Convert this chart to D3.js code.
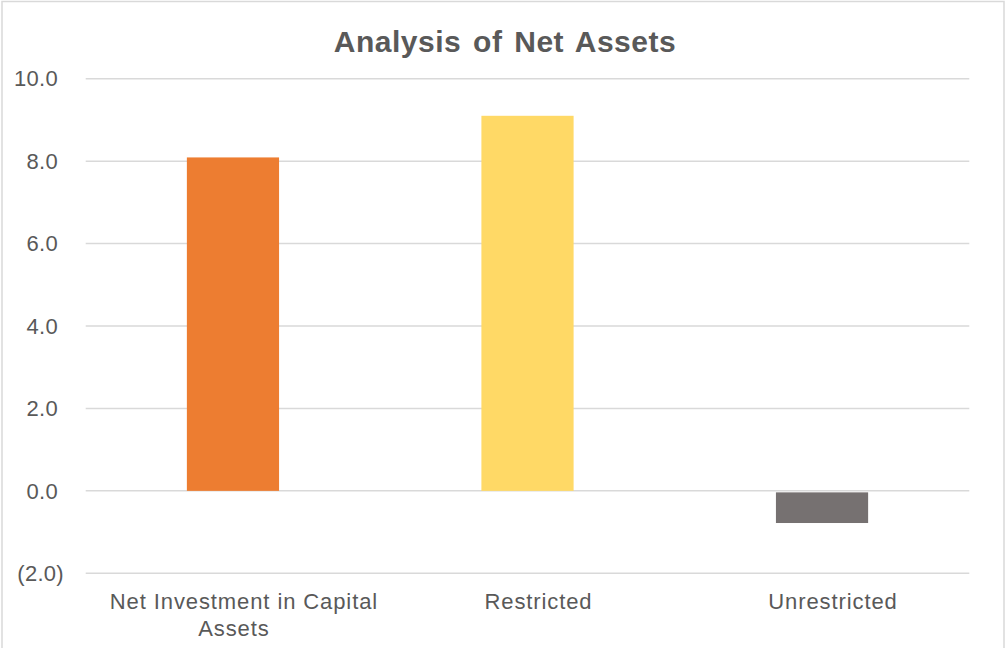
<!DOCTYPE html>
<html><head><meta charset="utf-8">
<script src="https://cdn.jsdelivr.net/npm/d3@7"></script>
<style>html,body{margin:0;padding:0;background:#fff;}</style>
</head><body>
<svg id="chart" width="1006" height="648"></svg>
<script>
const categories = ["Net Investment in Capital Assets", "Restricted", "Unrestricted"];
const categoryLines = [["Net Investment in Capital", "Assets"], ["Restricted"], ["Unrestricted"]];
const values = [8.09, 9.10, -0.78];
const colors = ["#ED7D31", "#FFD966", "#767171"];
const tickValues = [-2, 0, 2, 4, 6, 8, 10];
const title = "Analysis of Net Assets";

const svg = d3.select("#chart");
const font = "'Liberation Sans', Arial, sans-serif";
const textColor = "#595959";

svg.append("rect").attr("x", 2).attr("y", 1.5).attr("width", 1002).attr("height", 700)
  .attr("fill", "#fff").attr("stroke", "#d9d9d9").attr("stroke-width", 1.5);

const x = d3.scaleBand().domain(categories).range([85.7, 969.3]).paddingInner(0.687).paddingOuter(0.3435);
const y = d3.scaleLinear().domain([-2, 10]).range([573.3, 78.7]);

// gridlines
svg.append("g").selectAll("line").data(tickValues).join("line")
  .attr("x1", 85.7).attr("x2", 969.3)
  .attr("y1", d => y(d)).attr("y2", d => y(d))
  .attr("stroke", "#d9d9d9").attr("stroke-width", 1.5);

// y tick labels
const fmt = d => d < 0 ? "(" + d3.format(".1f")(-d) + ")" : d3.format(".1f")(d);
svg.append("g").selectAll("text").data(tickValues).join("text")
  .attr("x", d => d < 0 ? 64 : 58)
  .attr("y", d => y(d)).attr("dy", "0.35em")
  .attr("text-anchor", "end")
  .attr("font-family", font).attr("font-size", 22).attr("fill", textColor)
  .attr("letter-spacing", 0.3)
  .text(fmt);

// bars
svg.append("g").selectAll("rect").data(values).join("rect")
  .attr("x", (d, i) => x(categories[i]))
  .attr("width", x.bandwidth())
  .attr("y", d => d >= 0 ? y(d) : y(0) + 1.5)
  .attr("height", d => d >= 0 ? y(0) - y(d) : y(d) - y(0) - 1.5)
  .attr("fill", (d, i) => colors[i]);

// category labels
const centerX = d => x(d) + x.bandwidth() / 2;
const cat = svg.append("g").selectAll("text").data(categories).join("text")
  .attr("x", centerX)
  .attr("y", 609)
  .attr("text-anchor", "middle")
  .attr("font-family", font).attr("font-size", 22).attr("fill", textColor)
  .attr("letter-spacing", 0.9);
cat.each(function(d, i) {
  d3.select(this).selectAll("tspan").data(categoryLines[i]).join("tspan")
    .attr("x", (t, j) => centerX(d) + (j === 0 ? 11 : 1))
    .attr("dy", (t, j) => j === 0 ? 0 : 27)
    .text(t => t);
});

// title
svg.append("text").attr("x", 505).attr("y", 52)
  .attr("text-anchor", "middle")
  .attr("font-family", font).attr("font-size", 30).attr("font-weight", "bold")
  .attr("fill", textColor).attr("word-spacing", 3).attr("letter-spacing", 0.5)
  .text(title);
</script>
</body></html>
